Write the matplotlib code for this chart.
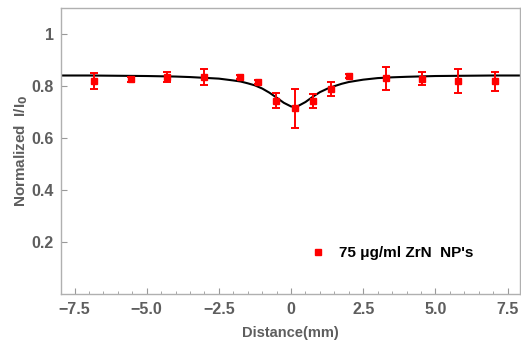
import matplotlib
matplotlib.use("Agg")
import matplotlib.pyplot as plt
from matplotlib.lines import Line2D
from matplotlib.ticker import MultipleLocator

plt.rcParams["font.family"] = ["Liberation Sans", "DejaVu Sans"]
plt.rcParams["font.weight"] = "bold"

# Measured points
distance = [-6.84, -5.56, -4.30, -3.03, -1.77, -1.14, -0.51, 0.13, 0.75,
            1.38, 2.01, 3.28, 4.54, 5.80, 7.07]
intensity = [0.820, 0.826, 0.835, 0.835, 0.833, 0.815, 0.743, 0.714, 0.742,
             0.788, 0.838, 0.830, 0.828, 0.819, 0.817]
error = [0.031, 0.010, 0.019, 0.030, 0.008, 0.008, 0.029, 0.076, 0.027,
         0.026, 0.008, 0.044, 0.026, 0.045, 0.038]

# Fitted curve
fit_x = [-8, -7, -6, -5, -4, -3.5, -3, -2.5, -2, -1.75, -1.5, -1.25, -1,
         -0.75, -0.5, -0.25, 0, 0.1, 0.25, 0.5, 0.75, 1, 1.25, 1.5, 1.75,
         2, 2.5, 3, 3.5, 4, 5, 6, 7, 8]
fit_y = [0.840, 0.840, 0.839, 0.838, 0.836, 0.834, 0.831, 0.828, 0.821,
         0.817, 0.810, 0.802, 0.790, 0.774, 0.755, 0.735, 0.721, 0.720,
         0.723, 0.738, 0.758, 0.776, 0.789, 0.799, 0.808, 0.815, 0.824,
         0.830, 0.833, 0.835, 0.838, 0.839, 0.840, 0.840]

x_ticks = [-7.5, -5.0, -2.5, 0, 2.5, 5.0, 7.5]
x_tick_labels = ["\u22127.5", "\u22125.0", "\u22122.5", "0", "2.5", "5.0", "7.5"]
y_ticks = [0.2, 0.4, 0.6, 0.8, 1.0]
y_tick_labels = ["0.2", "0.4", "0.6", "0.8", "1"]

fig = plt.figure(figsize=(5.21, 3.43), dpi=100)
ax = fig.add_axes([0.117, 0.143, 0.881, 0.834])

ax.plot(fit_x, fit_y, color="black", lw=1.5, zorder=2)
ax.errorbar(distance, intensity, yerr=error, fmt="s", color="red",
            ms=4.3, elinewidth=1.4, capsize=3, capthick=1.4, zorder=3)

ax.set_xlim(-7.97, 7.93)
ax.set_ylim(0, 1.1)
ax.set_xticks(x_ticks)
ax.set_xticklabels(x_tick_labels)
ax.set_yticks(y_ticks)
ax.set_yticklabels(y_tick_labels)
ax.xaxis.set_minor_locator(MultipleLocator(0.5))

gray = "#5e5e5e"
for s in ax.spines.values():
    s.set_color("#b0b0b0")
    s.set_linewidth(1.0)
ax.tick_params(which="both", direction="in", colors="#999999", labelcolor=gray,
               labelsize=11.5, top=False, right=False)
ax.tick_params(which="major", length=4)
ax.tick_params(which="minor", length=2)
ax.tick_params(axis="x", pad=6)
ax.tick_params(axis="y", pad=5)

ax.set_xlabel("Distance(mm)", color=gray, fontsize=10.5, fontweight="bold", labelpad=6)
ax.set_ylabel("Normalized  I/I$_\\mathbf{0}$", color=gray, fontsize=11,
              fontweight="bold", labelpad=1)

handle = Line2D([], [], color="red", marker="s", ms=4.3, ls="none")
ax.legend([handle], ["75 \u03bcg/ml ZrN  NP's"], loc="center left",
          bbox_to_anchor=(0.497, 0.143), frameon=False, handletextpad=0.4,
          prop={"size": 11, "weight": "bold"})

fig.savefig("out.png", dpi=100)
